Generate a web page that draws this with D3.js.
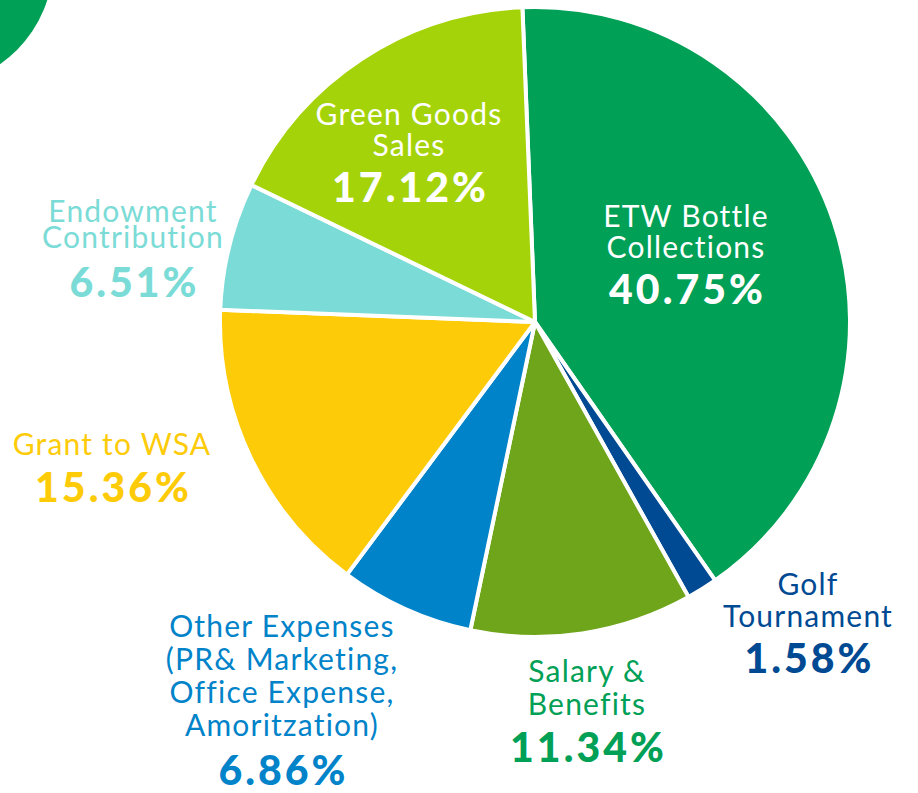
<!DOCTYPE html>
<html>
<head>
<meta charset="utf-8">
<script src="https://cdn.jsdelivr.net/npm/d3@7"></script>
<style>
	body { margin: 0; background: #fff; }
	svg { display: block; }
	text { font-family: Lato, "Open Sans", sans-serif; }
</style>
</head>
<body>
<svg id="chart" width="918" height="793"></svg>
<script>
// slices, clockwise from the top
var categories = ['ETW Bottle Collections', 'Golf Tournament', 'Salary & Benefits', 'Other Expenses', 'Grant to WSA', 'Endowment Contribution', 'Green Goods Sales'];
var values = [40.75, 1.58, 11.34, 6.86, 15.36, 6.51, 17.12];
var sliceColors = ['#00a056', '#004a94', '#6fa51a', '#0083c9', '#fdcb08', '#7bdbd6', '#a5d30a'];

// label text, one entry per slice
var labelLines = [
	['ETW Bottle', 'Collections'],
	['Golf', 'Tournament'],
	['Salary &', 'Benefits'],
	['Other Expenses', '(PR& Marketing,', 'Office Expense,', 'Amoritzation)'],
	['Grant to WSA'],
	['Endowment', 'Contribution'],
	['Green Goods', 'Sales']
];
var labelColors = ['#ffffff', '#004a94', '#00a056', '#0083c9', '#fdcb08', '#7bdbd6', '#ffffff'];
// where each label block sits: centre x, first baseline, line step, gap to the percent
var labelPos = [
	[686, 227, 31, 46],
	[808, 595, 32, 46],
	[587, 682, 33, 47],
	[282, 637, 33, 49],
	[112, 455, 0, 47],
	[133, 222, 26, 49],
	[409, 125, 31, 46]
];

var svg = d3.select('#chart');
var cx = 535, cy = 322, radius = 315;

// decorative corner disc
svg.append('circle')
	.attr('cx', -70)
	.attr('cy', -37)
	.attr('r', 123)
	.style('fill', '#00a056');

var pie = d3.pie()
	.sort(null)
	.value(function(d) { return d; })
	.startAngle(-0.04)
	.endAngle(2 * Math.PI - 0.04);

var arc = d3.arc()
	.innerRadius(0)
	.outerRadius(radius);

var slices = svg.append('g')
	.attr('transform', 'translate(' + cx + ',' + cy + ')');

slices.selectAll('path')
	.data(pie(values))
	.enter().append('path')
	.attr('d', arc)
	.style('fill', function(d, i) { return sliceColors[i]; })
	.style('stroke', '#fff')
	.style('stroke-width', 4)
	.style('stroke-linejoin', 'round');

var labels = svg.append('g').attr('class', 'labels');

categories.forEach(function(name, i) {
	var p = labelPos[i];
	var g = labels.append('g').attr('class', 'label');
	var lines = labelLines[i];

	lines.forEach(function(line, j) {
		g.append('text')
			.attr('x', p[0])
			.attr('y', p[1] + j * p[2])
			.attr('text-anchor', 'middle')
			.style('font-size', '30px')
			.style('letter-spacing', '1.2px')
			.style('fill', labelColors[i])
			.text(line);
	});

	g.append('text')
		.attr('x', p[0] + 1.5)
		.attr('y', p[1] + (lines.length - 1) * p[2] + p[3])
		.attr('text-anchor', 'middle')
		.style('font-size', '41px')
		.style('font-weight', 900)
		.style('letter-spacing', '3px')
		.style('fill', labelColors[i])
		.text(values[i].toFixed(2) + '%');
});
</script>
</body>
</html>
